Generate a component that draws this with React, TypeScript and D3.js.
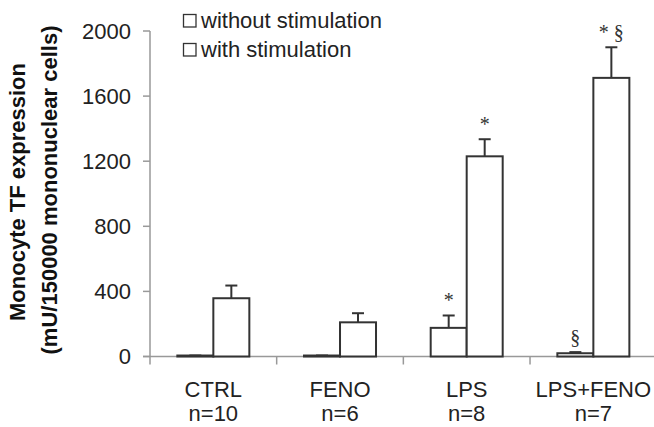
import React from 'react'
import * as d3 from 'd3'

const groups = ['CTRL', 'FENO', 'LPS', 'LPS+FENO']
const groupN = ['n=10', 'n=6', 'n=8', 'n=7']
const seriesNames = ['without stimulation', 'with stimulation']
// mean values
const withoutStim = [6, 6, 176, 20]
const withStim = [358, 210, 1230, 1712]
// top of the error bar (mean + SD)
const withoutStimErr = [6, 6, 252, 27]
const withStimErr = [436, 266, 1335, 1900]
const yTicks = [0, 400, 800, 1200, 1600, 2000]
// significance marks: [group, series, label]
const marks: [string, number, string][] = [
  ['LPS', 0, '*'],
  ['LPS', 1, '*'],
  ['LPS+FENO', 0, '§'],
  ['LPS+FENO', 1, '* §'],
]

const W = 654, H = 427
const sans = 'Liberation Sans, Arial, sans-serif'
const serif = 'Liberation Serif, Times New Roman, serif'

export default function App() {
  const x = d3.scaleBand().domain(groups).range([150, 656.7])
  const y = d3.scaleLinear().domain([0, 2000]).range([356.5, 31])
  const barW = 36
  const values = [withoutStim, withStim]
  const errs = [withoutStimErr, withStimErr]
  const barX = (g: string, s: number) => x(g)! + x.bandwidth() / 2 - barW + s * barW
  const y0 = y(0)

  return (
    <svg width={W} height={H} style={{position: 'absolute', left: 0, top: 0, background: '#fff'}}>
      {/* y axis */}
      <line x1={150} x2={150} y1={y(2000)} y2={y0} stroke="#999" strokeWidth={1.5} />
      {yTicks.map(t => (
        <g key={t}>
          <line x1={143} x2={150} y1={y(t)} y2={y(t)} stroke="#999" strokeWidth={1.5} />
          <text x={131} y={y(t) + 7.5} textAnchor="end" fontFamily={sans} fontSize={22} fill="#222">{t}</text>
        </g>
      ))}
      {/* x axis */}
      <line x1={143} x2={W} y1={y0} y2={y0} stroke="#999" strokeWidth={1.5} />
      {groups.map(g => (
        <line key={g} x1={x(g)!} x2={x(g)!} y1={y0} y2={y0 + 8} stroke="#999" strokeWidth={1.5} />
      ))}
      {groups.map((g, i) => (
        <g key={g} fontFamily={sans} fontSize={22} fill="#222" textAnchor="middle">
          <text x={x(g)! + x.bandwidth() / 2} y={397}>{g}</text>
          <text x={x(g)! + x.bandwidth() / 2} y={421}>{groupN[i]}</text>
        </g>
      ))}

      {/* bars + error bars */}
      {groups.map((g, i) => values.map((vals, s) => {
        const bx = barX(g, s)
        const cx = bx + barW / 2
        return (
          <g key={g + s}>
            <line x1={cx} x2={cx} y1={y(vals[i])} y2={y(errs[s][i])} stroke="#333" strokeWidth={2} />
            <line x1={cx - 6} x2={cx + 6} y1={y(errs[s][i])} y2={y(errs[s][i])} stroke="#333" strokeWidth={2} />
            <rect x={bx} y={y(vals[i])} width={barW} height={y0 - y(vals[i])} fill="#fff" stroke="#333" strokeWidth={2} />
          </g>
        )
      }))}

      {/* significance */}
      {marks.map(([g, s, label]) => {
        const gi = groups.indexOf(g)
        return (
          <text key={g + s} x={barX(g, s) + barW / 2} y={y(errs[s][gi]) - 8} textAnchor="middle"
            fontFamily={serif} fontSize={20} fill="#333">{label}</text>
        )
      })}

      {/* legend */}
      {seriesNames.map((n, i) => (
        <g key={n}>
          <rect x={183.5} y={14.5 + i * 29} width={12.5} height={12.5} fill="#fff" stroke="#333" strokeWidth={1.3} />
          <text x={201} y={28 + i * 29} fontFamily={sans} fontSize={22} fill="#222">{n}</text>
        </g>
      ))}

      {/* y title */}
      <g fontFamily={sans} fontSize={22} fontWeight="bold" fill="#111" textAnchor="middle">
        <text transform="translate(25,192) rotate(-90)">Monocyte TF expression</text>
        <text transform="translate(57,190) rotate(-90)">(mU/150000 mononuclear cells)</text>
      </g>
    </svg>
  )
}
